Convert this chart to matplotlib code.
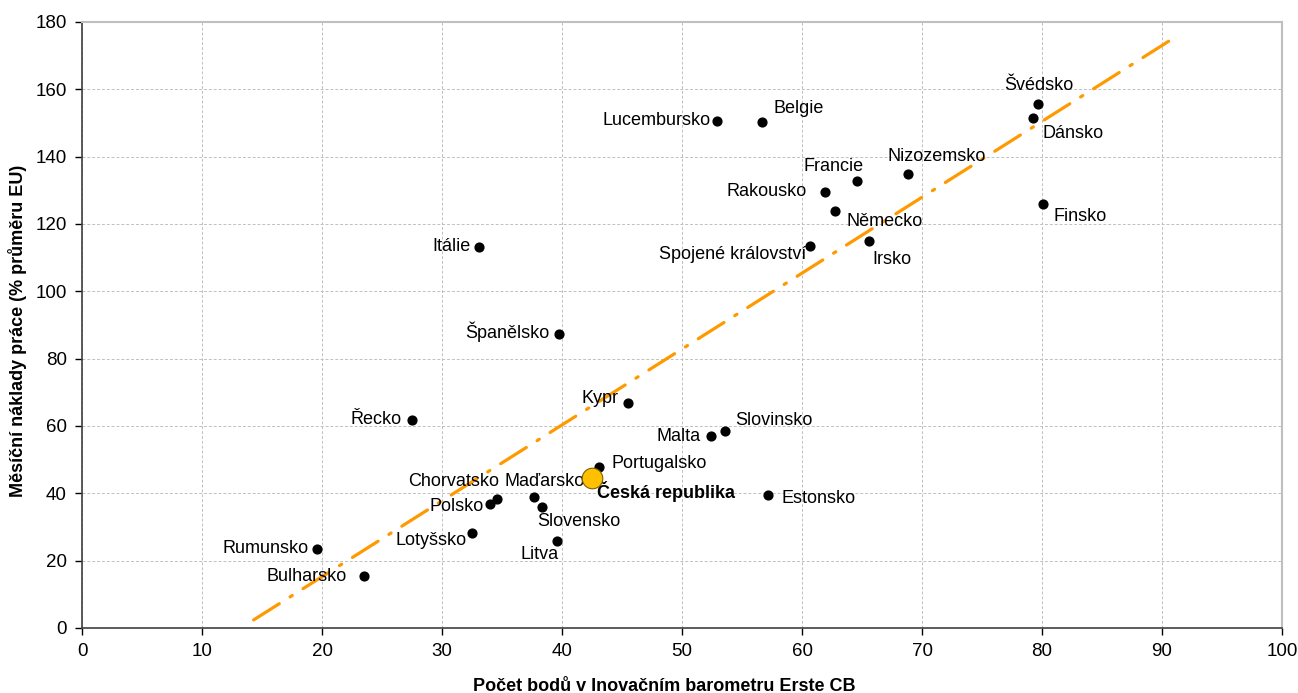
import matplotlib
matplotlib.use("Agg")
import matplotlib.pyplot as plt

plt.rcParams['font.family'] = ['Liberation Sans', 'DejaVu Sans']

# Data
zeme = ["Švédsko", "Dánsko", "Finsko", "Belgie", "Lucembursko", "Nizozemsko",
        "Francie", "Rakousko", "Německo", "Irsko", "Spojené království", "Itálie",
        "Španělsko", "Kypr", "Řecko", "Malta", "Slovinsko", "Portugalsko",
        "Estonsko", "Chorvatsko", "Polsko", "Maďarsko", "Slovensko", "Lotyšsko",
        "Litva", "Rumunsko", "Bulharsko"]
body = [79.7, 79.25, 80.1, 56.7, 52.9, 68.8, 64.6, 61.9, 62.75, 65.6, 60.7, 33.1,
        39.75, 45.5, 27.5, 52.4, 53.6, 43.1, 57.2, 34.6, 34.0, 37.7, 38.3, 32.5,
        39.6, 19.6, 23.5]
naklady = [155.6, 151.5, 125.9, 150.3, 150.6, 134.8, 132.8, 129.5, 123.9, 114.9,
           113.5, 113.2, 87.3, 66.8, 61.8, 57.0, 58.5, 47.8, 39.5, 38.3, 36.8, 38.9,
           35.9, 28.2, 25.8, 23.5, 15.4]
cr_body = 42.5
cr_naklady = 44.5
trend_x = [14.3, 90.7]
trend_y = [2.4, 174.6]

# posun popisku v pixelech (dx, dy, ha, va)
popisky = {
    "Švédsko": (0, 10, 'center', 'bottom'),
    "Dánsko": (9, -7, 'left', 'top'),
    "Finsko": (10, -4, 'left', 'top'),
    "Belgie": (11, 5, 'left', 'bottom'),
    "Lucembursko": (-6, 0, 'right', 'center'),
    "Nizozemsko": (29, 9, 'center', 'bottom'),
    "Francie": (-24, 6, 'center', 'bottom'),
    "Rakousko": (-18, 0, 'right', 'center'),
    "Německo": (11, -2, 'left', 'top'),
    "Irsko": (3, -10, 'left', 'top'),
    "Spojené království": (-4, -9, 'right', 'center'),
    "Itálie": (-9, 0, 'right', 'center'),
    "Španělsko": (-10, 2, 'right', 'center'),
    "Kypr": (-10, 5, 'right', 'center'),
    "Řecko": (-10, 0, 'right', 'center'),
    "Malta": (-10, 0, 'right', 'center'),
    "Slovinsko": (10, 11, 'left', 'center'),
    "Portugalsko": (12, 4, 'left', 'center'),
    "Estonsko": (13, -3, 'left', 'center'),
    "Chorvatsko": (-44, 9, 'center', 'bottom'),
    "Polsko": (-6, -2, 'right', 'center'),
    "Maďarsko": (10, 7, 'center', 'bottom'),
    "Slovensko": (37, -6, 'center', 'top'),
    "Lotyšsko": (-5, -7, 'right', 'center'),
    "Litva": (1, -5, 'right', 'top'),
    "Rumunsko": (-9, 0, 'right', 'center'),
    "Bulharsko": (-17, 0, 'right', 'center'),
}

fig = plt.figure(figsize=(12.98, 6.93), dpi=100)
ax = fig.add_axes([0.0632, 0.0938, 0.9245, 0.8745])

ax.plot(trend_x, trend_y, color='#FF9900', lw=2.3,
        linestyle=(0, (9.5, 4, 0.8, 4)), dash_capstyle='round', zorder=2)
ax.scatter(body, naklady, s=40, color='black', zorder=3)
ax.scatter([cr_body], [cr_naklady], s=220, color='#FFC000', edgecolor='#7F6000',
           linewidth=0.8, zorder=4)

for nazev, x, y in zip(zeme, body, naklady):
    dx, dy, ha, va = popisky[nazev]
    ax.annotate(nazev, (x, y), xytext=(dx, dy), textcoords='offset pixels',
                ha=ha, va=va, fontsize=13)
ax.annotate("Česká republika", (cr_body, cr_naklady), xytext=(5, -13),
            textcoords='offset pixels', ha='left', va='center', fontsize=13,
            fontweight='bold')

ax.set_xlim(0, 100)
ax.set_ylim(0, 180)
ax.set_xticks(range(0, 101, 10))
ax.set_yticks(range(0, 181, 20))
ax.tick_params(labelsize=13.5, direction='out', length=5, width=1)
ax.tick_params(axis='x', pad=6)
ax.tick_params(axis='y', pad=6)
ax.grid(True, linestyle=(0, (3, 2)), color='#C0C0C0', lw=0.7)
ax.set_axisbelow(True)

for s in ['top', 'right']:
    ax.spines[s].set_color('#BFBFBF')
    ax.spines[s].set_linewidth(1.5)
for s in ['left', 'bottom']:
    ax.spines[s].set_color('#404040')
    ax.spines[s].set_linewidth(1.2)

ax.set_xlabel("Počet bodů v Inovačním barometru Erste CB", fontsize=13,
              fontweight='bold', va='center')
ax.set_ylabel("Měsíční náklady práce (% průměru EU)", fontsize=13,
              fontweight='bold')
ax.xaxis.set_label_coords(0.485, -0.096)
ax.yaxis.set_label_coords(-0.046, 0.49)

plt.savefig("out.png", dpi=100)
